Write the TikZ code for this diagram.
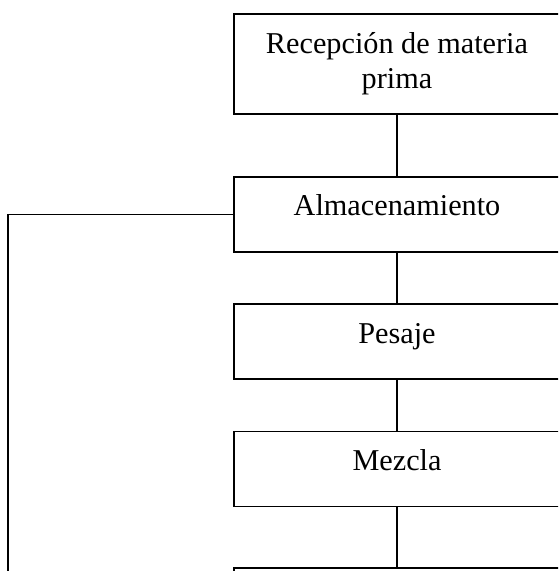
\documentclass[tikz,border=0pt]{standalone}
\usepackage{fontspec}
\setmainfont{Liberation Serif}
\tikzset{
    procbox/.style={draw, line width=0.5pt, minimum width=130.4pt, minimum height=30pt,
        font=\fontsize{12.1pt}{14pt}\selectfont, align=center, text height=9pt, text depth=7.8pt},
    tallbox/.style={procbox, minimum height=40pt, text height=, text depth=},
    link/.style={line width=0.5pt}
}
\begin{document}
\begin{tikzpicture}[x=0.4pt, y=-0.4pt]
            \useasboundingbox (0,0) rectangle (558,571);
            \clip (0,0) rectangle (558,571);
            % process boxes
            \node[tallbox] (recep) at (397,64) {Recepción de materia\\prima};
            \node[procbox] (almac) at (397,214.5) {Almacenamiento};
            \node[procbox] (pesaje) at (397,341.5) {Pesaje};
            \node[procbox] (mezcla) at (397,469) {Mezcla};
            \node[procbox] (sigue) at (397,605.5) {};
            % connectors
            \draw[link] (recep) -- (almac);
            \draw[link] (almac) -- (pesaje);
            \draw[link] (pesaje) -- (mezcla);
            \draw[link] (mezcla) -- (sigue);
            % return line on the left
            \coordinate (retorno) at (8,640);
            \draw[link] (almac.west) -| (retorno);
	\end{tikzpicture}
\end{document}
